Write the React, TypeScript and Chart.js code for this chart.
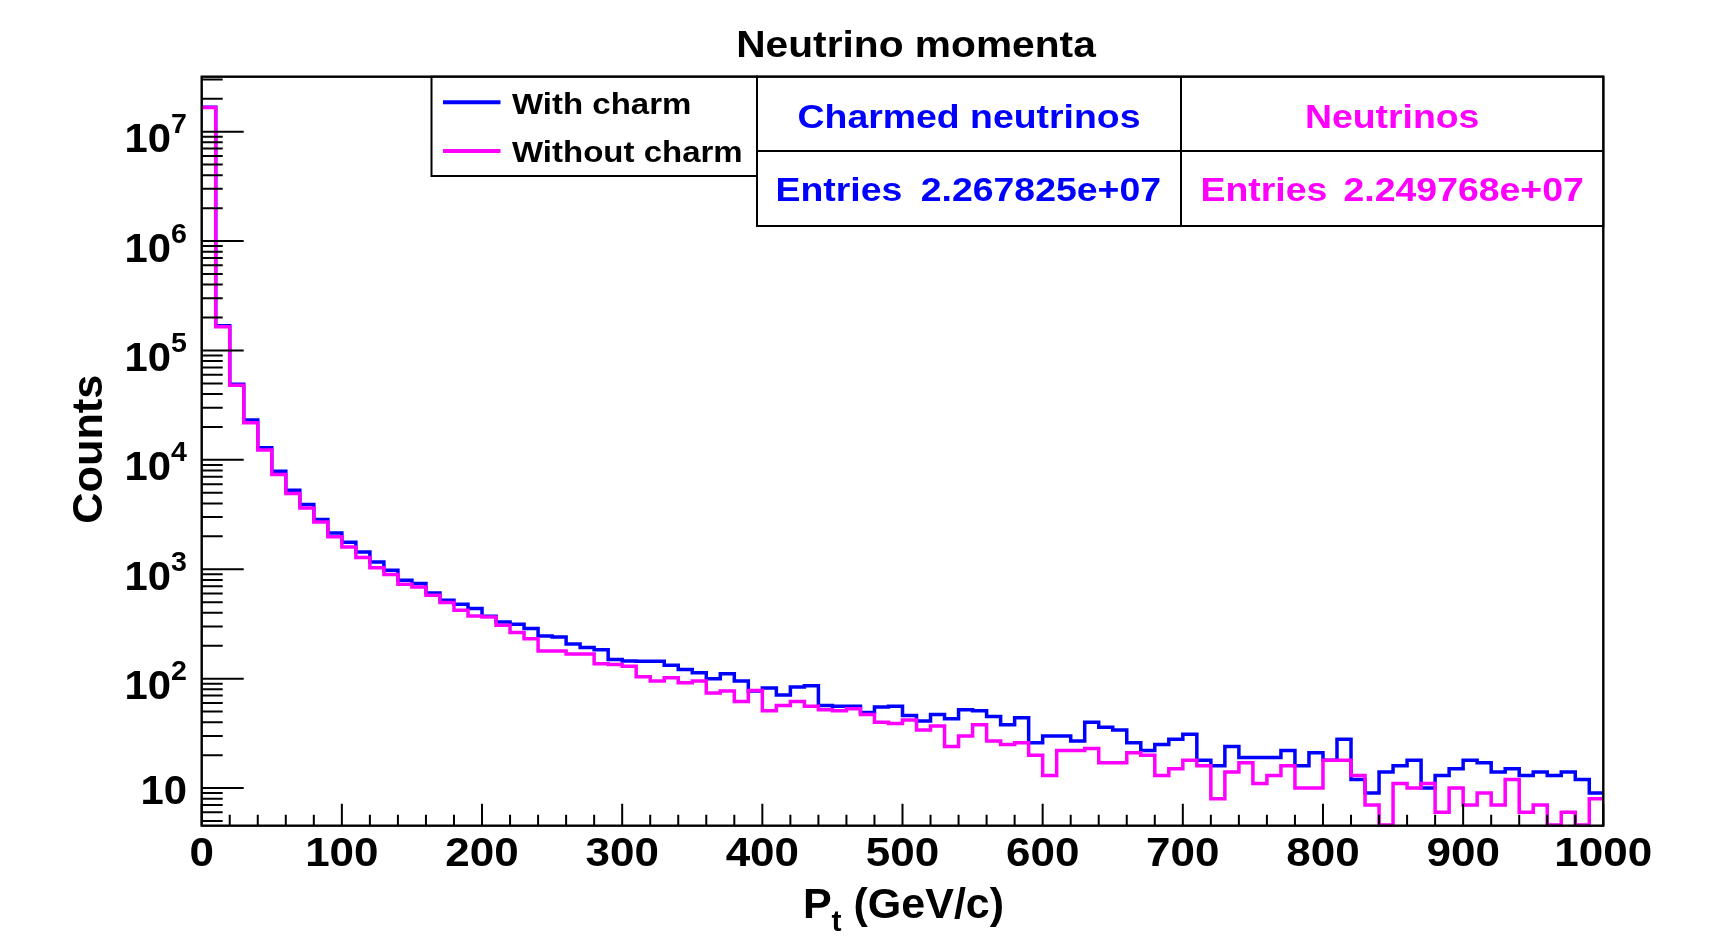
import React, { useEffect, useRef } from "react";
import { Chart, registerables } from "chart.js";

Chart.register(...registerables);

// ---- data ----
const X_MIN = 0;
const X_MAX = 1000;
const BIN_WIDTH = 10;
const Y_MIN = 4.53;
const Y_MAX = 3.18e7;

const withCharm = [
  1.67e7, 1.68e5, 4.9e4, 2.31e4, 1.29e4, 7880, 5280, 3910, 2850, 2150,
  1770, 1440, 1167, 979, 794, 740, 608, 521, 479, 437,
  372, 330, 314, 287, 246, 241, 207, 193, 184, 150,
  145, 144, 144, 133, 121, 113, 100, 111, 95, 77,
  82, 71, 84, 86, 57, 56, 56, 49, 55, 56,
  46, 41, 47, 43, 52, 51, 45, 38, 44, 26,
  30, 30, 27, 40, 36, 34, 26, 22, 25, 28,
  31, 18, 16, 24, 19, 19, 19, 22, 16, 21,
  18, 28, 12, 9, 14, 16, 18, 10, 13, 15,
  18, 17, 14, 15, 13, 14, 13, 14, 12, 9,
];

const withoutCharm = [
  1.66e7, 1.65e5, 4.8e4, 2.18e4, 1.23e4, 7350, 4920, 3640, 2710, 1980,
  1600, 1280, 1035, 894, 730, 690, 578, 496, 422, 374,
  367, 308, 264, 232, 179, 179, 168, 168, 137, 135,
  130, 104, 95, 102, 92, 95, 74, 77, 62, 78,
  51, 57, 62, 56, 52, 51, 53, 47, 40, 39,
  42, 34, 37, 24, 30, 38, 27, 25, 26, 20,
  13, 22, 22, 23, 17, 17, 21, 20, 13, 15,
  18, 16, 8, 14, 17, 11, 13, 16, 10, 10,
  18, 18, 13, 7, 4.6, 11, 10, 11, 6, 10,
  7, 9, 7, 12, 6, 7, 4.6, 6, 4.6, 8,
];

const xMajorTicks = [0, 100, 200, 300, 400, 500, 600, 700, 800, 900, 1000];
const xTickLabels = ["0", "100", "200", "300", "400", "500", "600", "700", "800", "900", "1000"];
const xMinorTicks = [
  20, 40, 60, 80, 120, 140, 160, 180, 220, 240, 260, 280, 320, 340, 360, 380,
  420, 440, 460, 480, 520, 540, 560, 580, 620, 640, 660, 680, 720, 740, 760, 780,
  820, 840, 860, 880, 920, 940, 960, 980,
];
const yMajorTicks = [10, 100, 1000, 1e4, 1e5, 1e6, 1e7];
const yTickBase = ["10", "10", "10", "10", "10", "10", "10"];
const yTickExp = ["", "2", "3", "4", "5", "6", "7"];
const yMinorMantissas = [2, 3, 4, 5, 6, 7, 8, 9];
const yMinorDecades = [1, 10, 100, 1000, 1e4, 1e5, 1e6, 1e7];

const seriesLabels = ["With charm", "Without charm"];
const statTitles = ["Charmed neutrinos", "Neutrinos"];
const statEntries = ["2.267825e+07", "2.249768e+07"];
const BLUE = "#0000ff";
const MAGENTA = "#ff00ff";

const FONT = '"Liberation Sans", Arial, sans-serif';
const SX = 1.1;

function drawText(
  ctx: CanvasRenderingContext2D,
  s: string,
  x: number,
  y: number,
  size: number,
  color: string,
  align: CanvasTextAlign,
  rot = 0,
  sx = SX
) {
  ctx.save();
  ctx.translate(x, y);
  if (rot) ctx.rotate(rot);
  ctx.scale(sx, 1);
  ctx.font = `bold ${size}px ${FONT}`;
  ctx.textAlign = align;
  ctx.textBaseline = "alphabetic";
  ctx.fillStyle = color;
  ctx.fillText(s, 0, 0);
  ctx.restore();
}

function textWidth(ctx: CanvasRenderingContext2D, s: string, size: number, sx = SX) {
  ctx.save();
  ctx.font = `bold ${size}px ${FONT}`;
  const w = ctx.measureText(s).width * sx;
  ctx.restore();
  return w;
}

const rootPlugin = {
  id: "rootDecor",
  afterDraw(chart: any) {
    const ctx: CanvasRenderingContext2D = chart.ctx;
    const a = chart.chartArea;
    const xs = chart.scales.x;
    const ys = chart.scales.y;
    ctx.save();
    ctx.strokeStyle = "#000";
    ctx.lineWidth = 2;
    ctx.lineCap = "butt";

    // frame
    ctx.strokeRect(a.left, a.top, a.right - a.left, a.bottom - a.top);

    // y ticks
    ctx.beginPath();
    yMajorTicks.forEach((v) => {
      const py = ys.getPixelForValue(v);
      ctx.moveTo(a.left, py);
      ctx.lineTo(a.left + 42, py);
    });
    yMinorDecades.forEach((d) => {
      yMinorMantissas.forEach((m) => {
        const v = d * m;
        if (v < Y_MIN || v > Y_MAX) return;
        const py = ys.getPixelForValue(v);
        ctx.moveTo(a.left, py);
        ctx.lineTo(a.left + 21, py);
      });
    });
    // x ticks
    xMajorTicks.forEach((v) => {
      const px = xs.getPixelForValue(v);
      ctx.moveTo(px, a.bottom);
      ctx.lineTo(px, a.bottom - 22);
    });
    xMinorTicks.forEach((v) => {
      const px = xs.getPixelForValue(v);
      ctx.moveTo(px, a.bottom);
      ctx.lineTo(px, a.bottom - 11);
    });
    ctx.stroke();

    // y tick labels
    const labelRight = 187;
    const ysx = 1.02;
    yMajorTicks.forEach((v, i) => {
      const py = ys.getPixelForValue(v);
      const base = yTickBase[i];
      const exp = yTickExp[i];
      if (exp) {
        const we = textWidth(ctx, exp, 28, ysx);
        const wb = textWidth(ctx, base, 41, ysx);
        drawText(ctx, base, labelRight - we - wb, py + 20.6, 41, "#000", "left", 0, ysx);
        drawText(ctx, exp, labelRight - we, py + 1.6, 28, "#000", "left", 0, ysx);
      } else {
        drawText(ctx, base, labelRight, py + 15.7, 41, "#000", "right", 0, ysx);
      }
    });

    // x tick labels
    xMajorTicks.forEach((v, i) => {
      const px = xs.getPixelForValue(v);
      drawText(ctx, xTickLabels[i], px, 866, 40, "#000", "center");
    });

    // x axis title: P_t (GeV/c)
    {
      const tsx = 1.0;
      const wP = textWidth(ctx, "P", 43, tsx);
      const wt = textWidth(ctx, "t", 30, tsx);
      const wr = textWidth(ctx, " (GeV/c)", 43, tsx);
      const total = wP + wt + wr;
      const cx = (a.left + a.right) / 2 + 1;
      let x0 = cx - total / 2;
      drawText(ctx, "P", x0, 918.3, 43, "#000", "left", 0, tsx);
      x0 += wP;
      drawText(ctx, "t", x0, 930.5, 30, "#000", "left", 0, tsx);
      x0 += wt;
      drawText(ctx, " (GeV/c)", x0, 918.3, 43, "#000", "left", 0, tsx);
    }

    // y axis title
    drawText(ctx, "Counts", 101.7, (a.top + a.bottom) / 2 - 2, 42, "#000", "center", -Math.PI / 2, 1.03);

    // title
    drawText(ctx, "Neutrino momenta", 916, 57.3, 37, "#000", "center");

    // legend box
    const lgL = 431.5, lgT = a.top, lgR = 757, lgB = 176;
    ctx.fillStyle = "#fff";
    ctx.fillRect(lgL, lgT, lgR - lgL, lgB - lgT);
    ctx.strokeStyle = "#000";
    ctx.lineWidth = 2;
    ctx.strokeRect(lgL, lgT, lgR - lgL, lgB - lgT);
    ctx.lineWidth = 4;
    ctx.strokeStyle = BLUE;
    ctx.beginPath();
    ctx.moveTo(443, 102.3);
    ctx.lineTo(500.5, 102.3);
    ctx.stroke();
    ctx.strokeStyle = MAGENTA;
    ctx.beginPath();
    ctx.moveTo(443, 151);
    ctx.lineTo(500.5, 151);
    ctx.stroke();
    drawText(ctx, seriesLabels[0], 512, 113.5, 30, "#000", "left");
    drawText(ctx, seriesLabels[1], 512, 161.5, 30, "#000", "left");

    // stats table
    const stL = 757, stT = a.top, stR = a.right, stB = 226, stMidX = 1181, stMidY = 151;
    ctx.fillStyle = "#fff";
    ctx.fillRect(stL, stT, stR - stL, stB - stT);
    ctx.strokeStyle = "#000";
    ctx.lineWidth = 2;
    ctx.strokeRect(stL, stT, stR - stL, stB - stT);
    ctx.beginPath();
    ctx.moveTo(stMidX, stT);
    ctx.lineTo(stMidX, stB);
    ctx.moveTo(stL, stMidY);
    ctx.lineTo(stR, stMidY);
    ctx.stroke();
    drawText(ctx, statTitles[0], (stL + stMidX) / 2, 128, 34, BLUE, "center");
    drawText(ctx, statTitles[1], (stMidX + stR) / 2, 128, 34, MAGENTA, "center");
    drawText(ctx, "Entries", stL + 18.5, 200.5, 34, BLUE, "left");
    drawText(ctx, statEntries[0], stMidX - 20, 200.5, 34, BLUE, "right");
    drawText(ctx, "Entries", stMidX + 19.5, 200.5, 34, MAGENTA, "left");
    drawText(ctx, statEntries[1], stR - 19.5, 200.5, 34, MAGENTA, "right");

    // redraw frame where boxes overlap
    ctx.strokeStyle = "#000";
    ctx.lineWidth = 2;
    ctx.strokeRect(a.left, a.top, a.right - a.left, a.bottom - a.top);
    ctx.restore();
  },
};

function toSteps(values: number[]) {
  const pts = values.map((v, i) => ({ x: X_MIN + i * BIN_WIDTH, y: v }));
  pts.push({ x: X_MAX, y: values[values.length - 1] });
  return pts;
}

export default function App() {
  const ref = useRef<HTMLCanvasElement | null>(null);
  useEffect(() => {
    if (!ref.current) return;
    const chart = new Chart(ref.current, {
      type: "line",
      data: {
        datasets: [
          {
            label: seriesLabels[0],
            data: toSteps(withCharm),
            borderColor: BLUE,
            backgroundColor: BLUE,
            borderWidth: 3.5,
            stepped: "before",
            pointRadius: 0,
            fill: false,
            order: 1,
            clip: false as any,
            borderJoinStyle: "miter",
          },
          {
            label: seriesLabels[1],
            data: toSteps(withoutCharm),
            borderColor: MAGENTA,
            backgroundColor: MAGENTA,
            borderWidth: 3.5,
            stepped: "before",
            pointRadius: 0,
            fill: false,
            order: 0,
            clip: false as any,
            borderJoinStyle: "miter",
          },
        ],
      },
      options: {
        responsive: false,
        animation: false,
        devicePixelRatio: 1,
        layout: { padding: { left: 201.7, right: 114.7, top: 76.7, bottom: 110.3 } },
        plugins: {
          legend: { display: false },
          title: { display: false },
          tooltip: { enabled: false },
        },
        scales: {
          x: { type: "linear", min: X_MIN, max: X_MAX, display: false },
          y: { type: "logarithmic", min: Y_MIN, max: Y_MAX, display: false },
        },
      },
      plugins: [rootPlugin],
    } as any);
    return () => chart.destroy();
  }, []);
  return (
    <div style={{ position: "absolute", left: 0, top: 0, width: 1718, height: 936, background: "#fff" }}>
      <canvas ref={ref} width={1718} height={936} />
    </div>
  );
}
